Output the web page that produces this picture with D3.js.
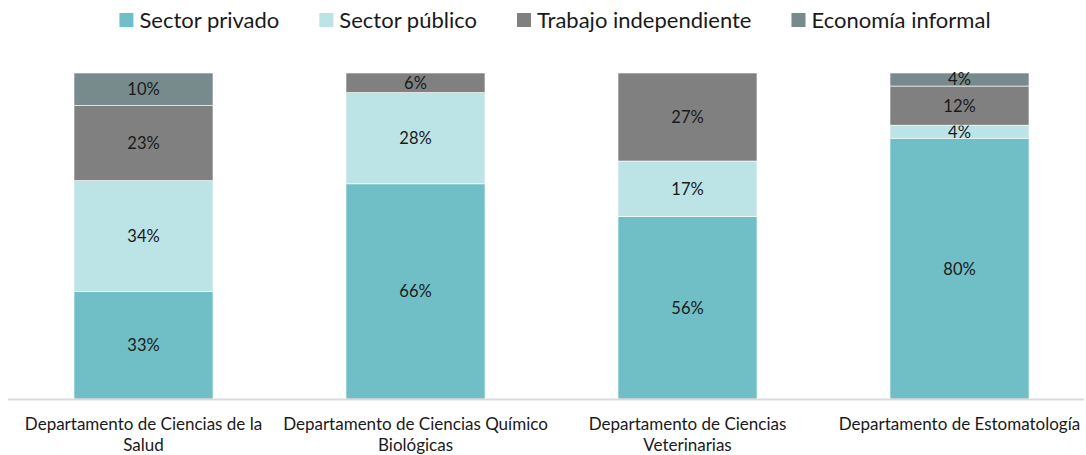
<!DOCTYPE html>
<html><head><meta charset="utf-8">
<script src="https://cdn.jsdelivr.net/npm/d3@7"></script>
<style>body{margin:0;background:#fff}svg{display:block}text{font-family:Lato,"Open Sans",sans-serif}</style>
</head><body><svg id="c" width="1086" height="455"></svg>
<script>
const categories = ["Departamento de Ciencias de la Salud","Departamento de Ciencias Químico Biológicas","Departamento de Ciencias Veterinarias","Departamento de Estomatología"];
const seriesNames = ["Sector privado","Sector público","Trabajo independiente","Economía informal"];
const colors = ["#70BFC6","#BCE3E6","#808080","#778A8C"];
const sectorPrivado = [33,66,56,80];
const sectorPublico = [34,28,17,4];
const trabajoIndependiente = [23,6,27,12];
const economiaInformal = [10,0,0,4];

const W=1086,H=455;
const svg=d3.select("#c");
const rows = categories.map((c,i)=>({cat:c,"Sector privado":sectorPrivado[i],"Sector público":sectorPublico[i],"Trabajo independiente":trabajoIndependiente[i],"Economía informal":economiaInformal[i]}));
const stack=d3.stack().keys(seriesNames)(rows);
const x=d3.scaleBand().domain(categories).range([7.5,1095.5]).paddingInner(0.489).paddingOuter(0.2445);
const y=d3.scaleLinear().domain([0,100]).range([399,73]);

const g=svg.append("g");
stack.forEach((s,si)=>{
  const sg=g.append("g");
  sg.selectAll("rect").data(s.filter(d=>d[1]-d[0]>0)).join("rect")
    .attr("x",d=>x(d.data.cat)).attr("width",x.bandwidth())
    .attr("y",d=>y(d[1])).attr("height",d=>y(d[0])-y(d[1]))
    .attr("fill",colors[si]).attr("stroke","#fff").attr("stroke-width",0.6);
  sg.selectAll("text").data(s.filter(d=>d[1]-d[0]>0)).join("text")
    .attr("x",d=>x(d.data.cat)+x.bandwidth()/2)
    .attr("y",d=>(y(d[0])+y(d[1]))/2).attr("dy","0.36em")
    .attr("text-anchor","middle").attr("font-size",16.5).attr("fill","#1a1a1a")
    .text(d=>(d[1]-d[0])+"%");
});

// axis line
const xAxis=d3.axisBottom(x).tickSize(0).tickFormat("");
const ax=svg.append("g").attr("transform","translate(0,399)").call(xAxis);
ax.select(".domain").attr("d","M8,0.5H1084").attr("stroke","#d9d9d9").attr("stroke-width",2);

// category labels with wrap
const maxW=270, fs=17;
categories.forEach(c=>{
  const t=svg.append("text").attr("text-anchor","middle").attr("font-size",fs).attr("fill","#1a1a1a")
    .attr("x",x(c)+x.bandwidth()/2).attr("y",430);
  const words=c.split(" ");
  let line=[],lines=[];
  const tmp=svg.append("text").attr("font-size",fs);
  words.forEach(w=>{
    const test=line.concat(w).join(" ");
    tmp.text(test);
    if(tmp.node().getComputedTextLength()>maxW && line.length){lines.push(line.join(" "));line=[w];}
    else line.push(w);
  });
  lines.push(line.join(" "));
  tmp.remove();
  lines.forEach((l,i)=>t.append("tspan").attr("x",x(c)+x.bandwidth()/2).attr("dy",i?21:0).text(l));
});

// legend
const lg=svg.append("g");
let cx=0;
const gap=40;
seriesNames.forEach((n,i)=>{
  const it=lg.append("g");
  it.append("rect").attr("x",0).attr("y",-7).attr("width",14).attr("height",14).attr("fill",colors[i]);
  const tx=it.append("text").attr("x",20).attr("dy","0.35em").attr("font-size",22).attr("fill","#1a1a1a").text(n);
  const w=20+tx.node().getComputedTextLength();
  it.attr("transform",`translate(${cx},20)`);
  cx+=w+gap;
});
const total=cx-gap;
lg.attr("transform",`translate(${(115+995)/2-total/2},0)`);
</script></body></html>
